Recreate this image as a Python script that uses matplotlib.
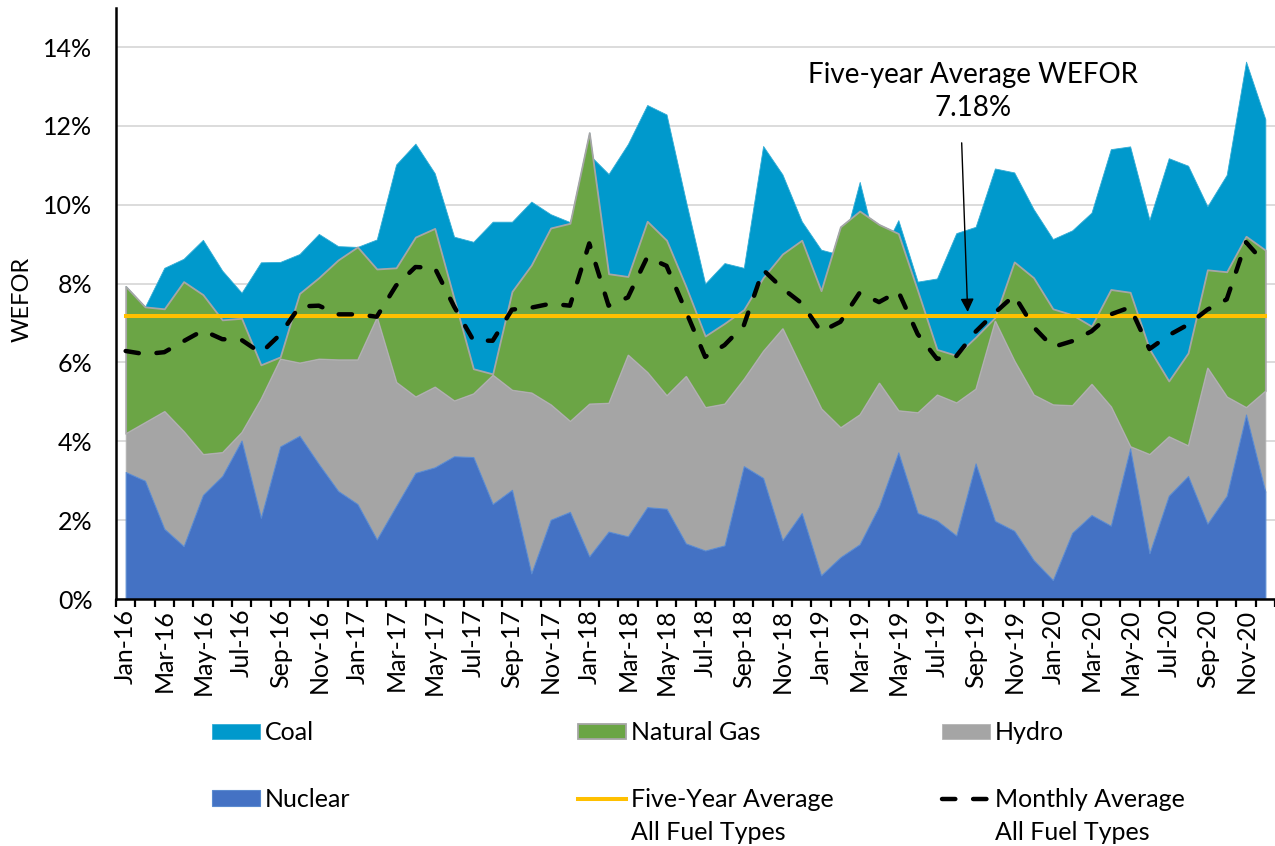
import numpy as np
import pandas as pd
import matplotlib
matplotlib.use("Agg")
import matplotlib.pyplot as plt

plt.rcParams['font.family'] = ['Lato', 'DejaVu Sans']

# monthly categories Jan-16 .. Dec-20
months = pd.date_range('2016-01-01', periods=60, freq='MS').strftime('%b-%y').tolist()

# WEFOR contribution by fuel type (percent)
nuclear = [3.22, 3.00, 1.78, 1.34, 2.64, 3.12, 4.02, 2.06, 3.87, 4.14, 3.42, 2.74, 2.41, 1.51, 2.36, 3.20, 3.34, 3.62, 3.60, 2.41,
           2.77, 0.65, 2.01, 2.21, 1.08, 1.71, 1.59, 2.33, 2.29, 1.41, 1.23, 1.36, 3.37, 3.07, 1.49, 2.18, 0.60, 1.06, 1.39, 2.35,
           3.72, 2.18, 1.99, 1.61, 3.44, 1.98, 1.73, 0.99, 0.48, 1.68, 2.13, 1.86, 3.82, 1.16, 2.62, 3.12, 1.91, 2.62, 4.68, 2.72]
hydro = [0.98, 1.48, 2.98, 2.91, 1.03, 0.60, 0.21, 3.02, 2.22, 1.85, 2.67, 3.33, 3.66, 5.63, 3.14, 1.93, 2.04, 1.41, 1.61, 3.27,
         2.53, 4.58, 2.92, 2.30, 3.87, 3.26, 4.60, 3.42, 2.87, 4.24, 3.63, 3.59, 2.21, 3.22, 5.37, 3.66, 4.23, 3.29, 3.29, 3.13,
         1.06, 2.55, 3.19, 3.37, 1.89, 5.07, 4.31, 4.19, 4.45, 3.23, 3.32, 3.02, 0.05, 2.51, 1.50, 0.77, 3.95, 2.51, 0.18, 2.56]
gas = [3.73, 2.93, 2.60, 3.80, 4.05, 3.36, 2.89, 0.86, 0.05, 1.76, 2.06, 2.53, 2.86, 1.23, 2.90, 4.05, 4.02, 2.59, 0.63, 0.03,
       2.50, 3.24, 4.48, 5.02, 6.88, 3.28, 1.99, 3.83, 3.94, 2.28, 1.81, 2.04, 1.76, 1.86, 1.89, 3.26, 2.99, 5.09, 5.16, 4.02,
       4.49, 3.09, 1.15, 1.20, 1.31, 0.09, 2.51, 2.97, 2.43, 2.30, 1.47, 2.97, 3.91, 2.67, 1.41, 2.35, 2.49, 3.17, 4.34, 3.57]
coal = [0.00, 0.00, 1.04, 0.58, 1.39, 1.25, 0.65, 2.60, 2.41, 1.00, 1.11, 0.35, 0.00, 0.75, 2.62, 2.37, 1.40, 1.57, 3.22, 3.86,
        1.77, 1.61, 0.35, 0.03, -0.56, 2.53, 3.36, 2.95, 3.19, 2.17, 1.33, 1.53, 1.06, 3.34, 2.02, 0.48, 1.04, -0.71, 0.74, -0.88,
        0.34, 0.23, 1.80, 3.10, 2.80, 3.78, 2.27, 1.74, 1.77, 2.14, 2.88, 3.56, 3.70, 3.28, 5.65, 4.75, 1.61, 2.46, 4.43, 3.32]
monthly_avg = [6.29, 6.21, 6.26, 6.54, 6.81, 6.59, 6.57, 6.24, 6.71, 7.42, 7.44, 7.22, 7.22, 7.16, 7.95, 8.42, 8.40, 7.42, 6.56, 6.55,
               7.34, 7.39, 7.49, 7.44, 9.02, 7.44, 7.65, 8.67, 8.45, 7.30, 6.14, 6.44, 6.94, 8.35, 7.88, 7.50, 6.78, 7.03, 7.77, 7.53,
               7.80, 6.72, 6.09, 6.16, 6.78, 7.26, 7.70, 6.90, 6.39, 6.54, 6.79, 7.22, 7.40, 6.34, 6.69, 6.96, 7.34, 7.60, 9.05, 8.50]
five_year_avg = 7.18

x = np.arange(len(months))
nuc_top = np.array(nuclear)
hyd_top = nuc_top + np.array(hydro)
gas_top = hyd_top + np.array(gas)
coal_top = gas_top + np.array(coal)

W, H = 1275, 846
fig = plt.figure(figsize=(W/100, H/100), dpi=100)
ax = fig.add_axes([116/W, 247/H, 1159/W, 591.4/H])

# stacked areas, drawn top series first so lower ones sit over it
coal_area = ax.fill_between(x, gas_top, coal_top, facecolor='#0099CC', edgecolor='#33ADD6', lw=0.6, label='Coal', zorder=2)
gas_area = ax.fill_between(x, hyd_top, gas_top, facecolor='#6BA545', edgecolor='#A6A6A6', lw=1.3, label='Natural Gas', zorder=3)
hyd_area = ax.fill_between(x, nuc_top, hyd_top, facecolor='#A5A5A5', edgecolor='#B5B5B5', lw=0.6, label='Hydro', zorder=4)
nuc_area = ax.fill_between(x, 0, nuc_top, facecolor='#4472C4', edgecolor='#5B8BD0', lw=0.8, label='Nuclear', zorder=5)

avg_line, = ax.plot(x, [five_year_avg] * len(x), color='#FFC000', lw=2.9, zorder=6, label='Five-Year Average')
mon_line, = ax.plot(x, monthly_avg, color='black', lw=3.2, linestyle=(0, (3, 4)), dash_capstyle='round', zorder=7,
                    label='Monthly Average')

ax.set_xlim(-0.5, 59.5)
ax.set_ylim(0, 15)

ax.set_yticks(np.arange(0, 15, 2))
ax.set_yticklabels([f'{v}%' for v in range(0, 15, 2)])
ax.set_xticks(x[::2])
ax.set_xticklabels(months[::2], rotation=90)
ax.set_xticks(np.arange(-0.5, 60, 1), minor=True)
ax.tick_params(axis='x', which='major', length=0, pad=7, labelsize=18)
ax.tick_params(axis='x', which='minor', length=6, width=1.6, color='black')
ax.tick_params(axis='y', length=0, pad=17, labelsize=18)

ax.grid(axis='y', color='#D9D9D9', lw=1.3)
ax.set_axisbelow(True)
for s in ['top', 'right']:
    ax.spines[s].set_visible(False)
for s in ['left', 'bottom']:
    ax.spines[s].set_linewidth(1.8)
    ax.spines[s].set_color('black')
    ax.spines[s].set_zorder(8)

ax.set_ylabel('WEFOR', fontsize=17)
ax.yaxis.set_label_coords(-0.072, 0.506)

# callout for the five-year average
ax.text(43.86, 12.88, 'Five-year Average WEFOR\n7.18%', ha='center', va='center', fontsize=20, linespacing=1.35, zorder=9)
ax.annotate('', xy=(43.59, 7.28), xytext=(43.28, 11.57),
            arrowprops=dict(arrowstyle='-|>', color='black', lw=1.0, mutation_scale=20, shrinkA=0, shrinkB=0), zorder=9)

# legend: three columns of two entries
cols = [([coal_area, nuc_area], 212), ([gas_area, avg_line], 578), ([hyd_area, mon_line], 942)]
legs = []
for handles, xpos in cols:
    leg = fig.legend(handles=handles, loc='upper left', bbox_to_anchor=(xpos/W, 1 - 721/H),
                     frameon=False, fontsize=18, handlelength=1.92, handleheight=0.56, handletextpad=0.2,
                     labelspacing=1.75, borderpad=0, borderaxespad=0)
    legs.append(leg)

# second line under the two average entries
fig.canvas.draw()
renderer = fig.canvas.get_renderer()
for leg in legs[1:]:
    bb = leg.get_texts()[1].get_window_extent(renderer)
    fig.text(bb.x0/W, (bb.y0 - 33)/H, 'All Fuel Types', fontsize=18, ha='left', va='bottom')

fig.savefig('out.png', dpi=100)
